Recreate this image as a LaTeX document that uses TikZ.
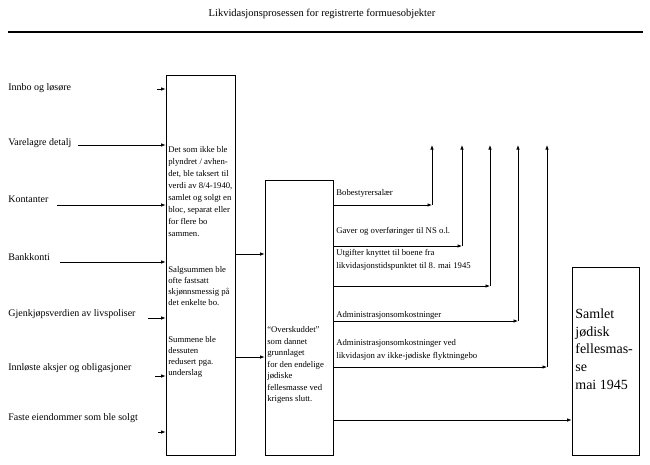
\documentclass[tikz,border=0pt]{standalone}
\usepackage{fontspec}
\setmainfont{Liberation Serif}
\usetikzlibrary{arrows.meta}
\begin{document}
\begin{tikzpicture}[x=1pt,y=-1pt, line width=0.7pt,
  tip/.style={-{Latex[length=4.5pt,width=3.5pt]}},
  boxst/.style={draw, line width=0.8pt, inner sep=0pt},
  lbl/.style={anchor=west, inner sep=0pt, font=\fontsize{10}{12}\selectfont},
  rlbl/.style={anchor=west, inner sep=0pt, font=\fontsize{8.7}{11}\selectfont},
  rlbltwo/.style={anchor=north west, inner sep=0pt, align=left, font=\fontsize{8.7}{13}\selectfont},
  boxtxt/.style={anchor=north west, inner sep=0pt, align=left, font=\fontsize{8.7}{11.5}\selectfont},
  bigtxt/.style={anchor=north west, inner sep=0pt, align=left, font=\fontsize{14}{17.7}\selectfont},
]
\useasboundingbox (0,0) rectangle (650,464);

% title and rule
\node[inner sep=0pt, font=\fontsize{10.5}{12}\selectfont] (title) at (322,14) {Likvidasjonsprosessen for registrerte formuesobjekter};
\coordinate (ruleL) at (8,32);
\coordinate (ruleR) at (643,32);
\draw[line width=2pt] (ruleL) -- (ruleR);

% boxes
\node[boxst, minimum width=69pt, minimum height=380pt] (b1) at (200.5,265) {};
\node[boxst, minimum width=68pt, minimum height=275pt] (b2) at (299,317.5) {};
\node[boxst, minimum width=67pt, minimum height=188pt] (b3) at (605.5,361) {};

% left labels
\node[lbl] (l1) at (8,88) {Innbo og løsøre};
\node[lbl] (l2) at (8,143) {Varelagre detalj};
\node[lbl] (l3) at (8,199) {Kontanter};
\node[lbl] (l4) at (8,257) {Bankkonti};
\node[lbl] (l5) at (8,314) {Gjenkjøpsverdien av livspoliser};
\node[lbl] (l6) at (8,368) {Innløste aksjer og  obligasjoner};
\node[lbl] (l7) at (8,418) {Faste eiendommer som ble solgt};

% left connectors
\coordinate (s1) at (157,89);
\coordinate (s2) at (78,145);
\coordinate (s3) at (57,205);
\coordinate (s4) at (60,262);
\coordinate (s5) at (148,318);
\coordinate (s6) at (155,376);
\coordinate (s7) at (158,432);
\foreach \i in {1,...,7} {\draw[tip] (s\i) -- (s\i -| b1.west);}

% box 1 text
\node[boxtxt, font=\fontsize{8.7}{11.9}\selectfont] (t1a) at (168,146.5) {Det som ikke ble\\plyndret / avhen-\\det, ble taksert til\\verdi av 8/4-1940,\\samlet og solgt en\\bloc, separat eller\\for flere bo\\sammen.};
\node[boxtxt, font=\fontsize{8.7}{11}\selectfont] (t1b) at (168,266.5) {Salgsummen ble\\ofte fastsatt\\skjønnsmessig på\\det enkelte bo.};
\node[boxtxt, font=\fontsize{8.7}{11}\selectfont] (t1c) at (168,336.5) {Summene ble\\dessuten\\redusert pga.\\underslag};

% box1 -> box2
\coordinate (m1) at (250,254);
\coordinate (m2) at (250,357);
\draw[tip] (m1 -| b1.east) -- (m1 -| b2.west);
\draw[tip] (m2 -| b1.east) -- (m2 -| b2.west);

% box 2 text
\node[boxtxt] (t2) at (267,326.5) {“Overskuddet”\\som dannet\\grunnlaget\\for den endelige\\jødiske\\fellesmasse ved\\krigens slutt.};

% right labels
\node[rlbl] (r1) at (336,193) {Bobestyrersalær};
\node[rlbl] (r2) at (336,231) {Gaver og overføringer til NS o.l.};
\node[rlbltwo] (r3) at (336,249.5) {Utgifter knyttet til boene fra\\likvidasjonstidspunktet til 8. mai 1945};
\node[rlbl] (r4) at (336,315) {Administrasjonsomkostninger};
\node[rlbltwo] (r5) at (336,339.5) {Administrasjonsomkostninger ved\\likvidasjon av ikke-jødiske flyktningebo};

% outgoing connectors
\coordinate (h1) at (432,205);
\coordinate (h2) at (462,246);
\coordinate (h3) at (490,286);
\coordinate (h4) at (518,321);
\coordinate (h5) at (547,367);
\coordinate (v1) at (432,145);
\coordinate (v2) at (462,145);
\coordinate (v3) at (490,145);
\coordinate (v4) at (518,145);
\coordinate (v5) at (547,145);
\foreach \i in {1,...,5} {
  \draw[tip] (h\i -| b2.east) -- (h\i);
  \draw[tip] (h\i) -- (v\i);
}
\coordinate (h6) at (500,420);
\draw[tip] (h6 -| b2.east) -- (h6 -| b3.west);

% box 3 text
\node[bigtxt] (t3) at (575,308.5) {Samlet\\jødisk\\fellesmas-\\se\\mai 1945};
\end{tikzpicture}
\end{document}
